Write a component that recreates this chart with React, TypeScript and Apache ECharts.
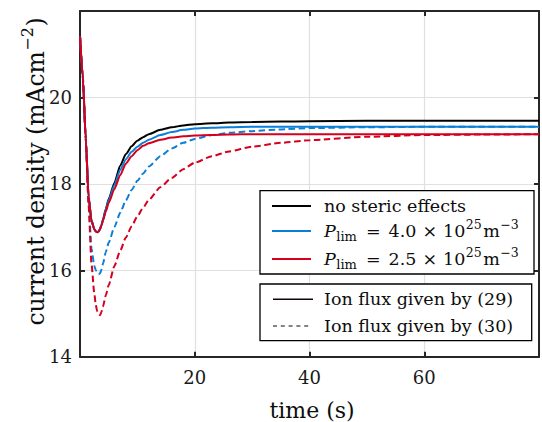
import React, { useEffect, useRef } from 'react';
import * as echarts from 'echarts';

// ---- data ----
const timeS = [0, 0.5, 1, 1.5, 2, 2.5, 2.75, 3, 3.25, 3.5, 3.75, 4, 4.5, 5, 6, 7, 8, 9, 10, 11, 12, 14, 16, 18, 20, 23, 26, 30, 35, 40, 50, 60, 70, 80];

const noSteric = [21.42, 20.45, 19.05, 17.7, 17.15, 16.95, 16.9, 16.88, 16.9, 16.96, 17.05, 17.17, 17.42, 17.65, 18.02, 18.42, 18.69, 18.87, 19.0, 19.08, 19.15, 19.25, 19.31, 19.35, 19.38, 19.4, 19.42, 19.43, 19.44, 19.45, 19.46, 19.46, 19.46, 19.46];
const plim40Solid = [21.42, 20.45, 19.05, 17.7, 17.15, 16.95, 16.9, 16.88, 16.9, 16.96, 17.05, 17.16, 17.4, 17.62, 17.97, 18.32, 18.57, 18.74, 18.86, 18.95, 19.02, 19.13, 19.2, 19.25, 19.28, 19.3, 19.31, 19.32, 19.32, 19.32, 19.32, 19.32, 19.32, 19.32];
const plim40Dashed = [21.42, 20.45, 19.05, 17.55, 16.5, 16.1, 16.0, 15.94, 15.91, 15.93, 16.02, 16.15, 16.42, 16.64, 17.0, 17.33, 17.62, 17.86, 18.07, 18.24, 18.4, 18.64, 18.82, 18.95, 19.04, 19.13, 19.18, 19.22, 19.26, 19.29, 19.31, 19.32, 19.32, 19.32];
const plim25Solid = [21.42, 20.45, 19.05, 17.7, 17.15, 16.95, 16.9, 16.88, 16.9, 16.95, 17.04, 17.15, 17.36, 17.56, 17.88, 18.2, 18.47, 18.64, 18.78, 18.88, 18.94, 19.02, 19.07, 19.1, 19.12, 19.13, 19.14, 19.15, 19.15, 19.15, 19.15, 19.15, 19.15, 19.15];
const plim25Dashed = [21.42, 20.45, 19.05, 17.5, 16.15, 15.45, 15.2, 15.05, 14.98, 14.96, 15.04, 15.16, 15.42, 15.66, 16.1, 16.45, 16.76, 17.02, 17.25, 17.45, 17.63, 17.92, 18.14, 18.34, 18.49, 18.64, 18.75, 18.86, 18.95, 19.01, 19.09, 19.13, 19.14, 19.15];

const xRange = [0, 80];
const xTickStep = 20;
const yRange = [14, 22];
const yTickStep = 2;

const legendNoSteric = 'no steric effects';
const plimValues = ['4.0', '2.5'];
const plimExponent = '25';
const fluxLabels = ['Ion flux given by (29)', 'Ion flux given by (30)'];
const xLabel = 'time (s)';
const yLabelMain = 'current density (mAcm';
const yLabelSup = '−2';

// ---- styles ----
const FONT = '"DejaVu Serif", "Liberation Serif", serif';
const BLACK = '#000000';
const BLUE = '#0a7fd8';
const RED = '#d4001e';
const AXIS = '#262626';

type Run = { t: string; s: number; it?: boolean; dy?: number; gap?: number };

let measureCtx: CanvasRenderingContext2D | null = null;
function measure(text: string, size: number, italic?: boolean): number {
  if (!measureCtx) measureCtx = document.createElement('canvas').getContext('2d');
  measureCtx!.font = `${italic ? 'italic ' : ''}${size}px ${FONT}`;
  return measureCtx!.measureText(text).width;
}

function runsWidth(runs: Run[]): number {
  let w = 0;
  runs.forEach((r) => {
    w += (r.gap || 0) + measure(r.t, r.s, r.it);
  });
  return w;
}

function layoutRuns(x0: number, y: number, runs: Run[], color = '#0d0d0d'): any[] {
  const out: any[] = [];
  let x = x0;
  runs.forEach((r) => {
    x += r.gap || 0;
    out.push({
      type: 'text',
      x,
      y: y + (r.dy || 0),
      z: 100,
      style: {
        text: r.t,
        fontSize: r.s,
        fontFamily: FONT,
        fontStyle: r.it ? 'italic' : 'normal',
        fill: color,
        align: 'left',
        verticalAlign: 'middle',
        textAlign: 'left',
        textVerticalAlign: 'middle',
      },
    });
    x += measure(r.t, r.s, r.it);
  });
  return out;
}

function plimRuns(val: string): Run[] {
  return [
    { t: 'P', s: 17.5, it: true },
    { t: 'lim', s: 13, dy: 5.5, gap: 0.5 },
    { t: '=', s: 17.5, gap: 9 },
    { t: val, s: 17.5, gap: 8 },
    { t: '×', s: 17.5, gap: 6 },
    { t: '10', s: 17.5, gap: 6 },
    { t: plimExponent, s: 12.5, dy: -6.5, gap: 0.5 },
    { t: 'm', s: 17.5, gap: 1.5 },
    { t: '−3', s: 12.5, dy: -6.5, gap: 0.5 },
  ];
}

export default function App() {
  const ref = useRef<HTMLDivElement>(null);

  useEffect(() => {
    if (!ref.current) return;
    const chart = echarts.init(ref.current, null, { renderer: 'svg' });

    const toPairs = (vals: number[]) => timeS.map((t, i) => [t, vals[i]]);

    const axisLine = { show: true, onZero: false, lineStyle: { color: AXIS, width: 2 } };
    const axisTick = { show: true, inside: true, length: 5, lineStyle: { color: AXIS, width: 2 } };
    const splitLine = { show: true, lineStyle: { color: '#e0e0e0', width: 1.2 } };

    const mkSeries = (name: string, vals: number[], color: string, dashed: boolean) => ({
      name,
      type: 'line',
      data: toPairs(vals),
      showSymbol: false,
      symbol: 'none',
      smooth: 0.2,
      smoothMonotone: 'x',
      clip: true,
      lineStyle: { color, width: 2, type: dashed ? [6.5, 3.5] : 'solid' },
      itemStyle: { color },
      z: 2,
    });

    // legend geometry
    const lx = 260;
    const lineX1 = 272;
    const lineX2 = 311;
    const textX = 324;
    const rows1 = [206, 231, 259];
    const rows2 = [299.3, 326];

    const graphics: any[] = [];
    // legend box 1
    graphics.push({
      type: 'rect',
      z: 99,
      shape: { x: lx, y: 190.7, width: 274, height: 83.3 },
      style: { fill: '#ffffff', stroke: '#000000', lineWidth: 1.3 },
    });
    [BLACK, BLUE, RED].forEach((c, i) => {
      graphics.push({
        type: 'line',
        z: 100,
        shape: { x1: lineX1, y1: rows1[i], x2: lineX2, y2: rows1[i] },
        style: { stroke: c, lineWidth: 2 },
      });
    });
    graphics.push(...layoutRuns(textX, rows1[0], [{ t: legendNoSteric, s: 17.5 }]));
    graphics.push(...layoutRuns(textX, rows1[1], plimRuns(plimValues[0])));
    graphics.push(...layoutRuns(textX, rows1[2], plimRuns(plimValues[1])));

    // legend box 2
    graphics.push({
      type: 'rect',
      z: 99,
      shape: { x: lx, y: 284, width: 271.7, height: 56.7 },
      style: { fill: '#ffffff', stroke: '#000000', lineWidth: 1.3 },
    });
    graphics.push({
      type: 'line',
      z: 100,
      shape: { x1: 273, y1: rows2[0], x2: 313, y2: rows2[0] },
      style: { stroke: '#140404', lineWidth: 1.5 },
    });
    graphics.push({
      type: 'line',
      z: 100,
      shape: { x1: 273, y1: rows2[1], x2: 309, y2: rows2[1] },
      style: { stroke: '#140404', lineWidth: 1.2, lineDash: [4, 3.8] },
    });
    graphics.push(...layoutRuns(textX, rows2[0], [{ t: fluxLabels[0], s: 17.5 }]));
    graphics.push(...layoutRuns(textX, rows2[1], [{ t: fluxLabels[1], s: 17.5 }]));

    // x axis name
    const xRuns: Run[] = [{ t: xLabel, s: 22 }];
    const xw = runsWidth(xRuns);
    graphics.push(...layoutRuns(312 - xw / 2, 410, xRuns));

    // y axis name (rotated)
    const yRuns: Run[] = [
      { t: yLabelMain, s: 23.5 },
      { t: yLabelSup, s: 16, dy: -8.5, gap: 0.5 },
      { t: ')', s: 23.5, gap: 0.5 },
    ];
    const yw = runsWidth(yRuns);
    graphics.push({
      type: 'group',
      x: 36,
      y: 171.5,
      rotation: Math.PI / 2,
      z: 100,
      children: layoutRuns(-yw / 2, 0, yRuns),
    });

    const option: any = {
      animation: false,
      backgroundColor: '#ffffff',
      textStyle: { fontFamily: FONT },
      grid: { left: 80, top: 11, width: 464, height: 345.7, containLabel: false },
      xAxis: [
        {
          type: 'value',
          min: xRange[0],
          max: xRange[1],
          interval: xTickStep,
          position: 'bottom',
          axisLine,
          axisTick,
          splitLine,
          axisLabel: {
            margin: 12,
            color: '#1a1a1a',
            fontFamily: FONT,
            fontSize: 18,
            formatter: (v: number) => (v === xRange[0] || v === xRange[1] ? '' : String(v)),
          },
        },
        {
          type: 'value',
          min: xRange[0],
          max: xRange[1],
          interval: xTickStep,
          position: 'top',
          axisLine,
          axisTick,
          splitLine: { show: false },
          axisLabel: { show: false },
        },
      ],
      yAxis: [
        {
          type: 'value',
          min: yRange[0],
          max: yRange[1],
          interval: yTickStep,
          position: 'left',
          axisLine,
          axisTick,
          splitLine,
          axisLabel: {
            margin: 8,
            color: '#1a1a1a',
            fontFamily: FONT,
            fontSize: 18,
            formatter: (v: number) => (v === yRange[1] ? '' : String(v)),
          },
        },
        {
          type: 'value',
          min: yRange[0],
          max: yRange[1],
          interval: yTickStep,
          position: 'right',
          axisLine,
          axisTick,
          splitLine: { show: false },
          axisLabel: { show: false },
        },
      ],
      series: [
        mkSeries('no steric effects', noSteric, BLACK, false),
        mkSeries('Plim 4.0 (29)', plim40Solid, BLUE, false),
        mkSeries('Plim 4.0 (30)', plim40Dashed, BLUE, true),
        mkSeries('Plim 2.5 (29)', plim25Solid, RED, false),
        mkSeries('Plim 2.5 (30)', plim25Dashed, RED, true),
      ],
      graphic: { elements: graphics },
    };

    chart.setOption(option);
    return () => chart.dispose();
  }, []);

  return (
    <div
      ref={ref}
      style={{ position: 'absolute', left: 0, top: 0, width: 542, height: 422, background: '#ffffff' }}
    />
  );
}
